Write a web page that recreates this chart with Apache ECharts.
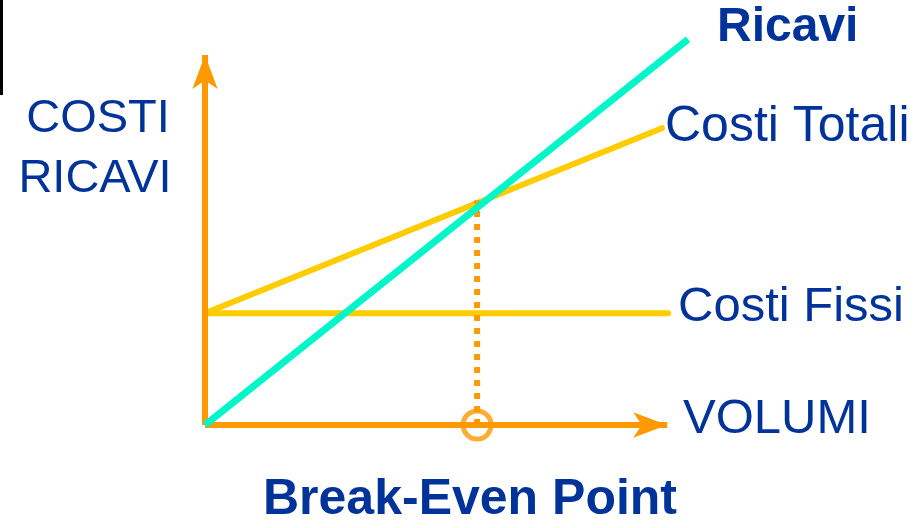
<!DOCTYPE html>
<html>
<head>
<meta charset="utf-8">
<style>
  html, body { margin: 0; padding: 0; background: #fff; }
  #chart { width: 918px; height: 528px; }
</style>
<script src="https://cdn.jsdelivr.net/npm/echarts@6/dist/echarts.min.js"></script>
</head>
<body>
<div id="chart"></div>
<script>
// line end points, in volume / cost units
const ricaviX = [0, 99.6];
const ricaviY = [0, 99.7];
const costiTotaliX = [0, 94.2];
const costiTotaliY = [28.9, 76.7];
const costiFissiX = [0, 95.5];
const costiFissiY = [28.9, 28.9];
const breakEvenX = [56.1, 56.1];
const breakEvenY = [0, 58.1];
// where the two axis arrows end
const axisEndX = 95.3;
const axisEndY = 95.6;

const orange = "#FF9900";
const yellow = "#FFCC00";
const cyan = "#00F5C8";
const blue = "#003399";
const font = "Liberation Sans, Arial, sans-serif";

const pairs = (xs, ys) => xs.map((x, i) => [x, ys[i]]);

const chart = echarts.init(document.getElementById("chart"));

function label(text, x, y, size, bold, align) {
    return {
        type: "text",
        x: x,
        y: y,
        z: 10,
        style: {
            text: text,
            fill: blue,
            font: (bold ? "bold " : "") + size + "px " + font,
            align: align || "left",
            verticalAlign: "middle",
        },
    };
}

const hiddenAxis = {
    type: "value",
    min: 0,
    max: 100,
    splitLine: { show: false },
    axisTick: { show: false },
    axisLabel: { show: false },
    axisLine: { show: false },
};

chart.setOption({
    animation: false,
    grid: {
        left: 205,
        right: 228,
        top: 38,
        bottom: 103,
    },
    xAxis: hiddenAxis,
    yAxis: hiddenAxis,
    series: [
        {
            name: "Assi",
            type: "line",
            data: [],
            z: 1,
            markLine: {
                silent: true,
                symbol: ["none", "arrow"],
                symbolSize: [19, 34],
                label: { show: false },
                lineStyle: { color: orange, width: 6, type: "solid" },
                data: [
                    [{ coord: [0, 0] }, { coord: [axisEndX, 0] }],
                    [{ coord: [0, 0] }, { coord: [0, axisEndY] }],
                ],
            },
        },
        {
            name: "Costi Fissi",
            type: "line",
            data: pairs(costiFissiX, costiFissiY),
            showSymbol: false,
            lineStyle: { color: yellow, width: 6, cap: "round" },
            z: 3,
        },
        {
            name: "Costi Totali",
            type: "line",
            data: pairs(costiTotaliX, costiTotaliY),
            showSymbol: false,
            lineStyle: { color: yellow, width: 6, cap: "round" },
            z: 3,
        },
        {
            name: "Break-Even",
            type: "line",
            data: pairs(breakEvenX, breakEvenY),
            showSymbol: false,
            lineStyle: { color: orange, width: 6, type: [6, 7] },
            z: 4,
        },
        {
            name: "Ricavi",
            type: "line",
            data: pairs(ricaviX, ricaviY),
            showSymbol: false,
            clip: false,
            lineStyle: { color: cyan, width: 7 },
            z: 5,
        },
        {
            name: "BEP",
            type: "scatter",
            data: [[breakEvenX[0], 0]],
            symbol: "circle",
            symbolSize: 28,
            clip: false,
            itemStyle: {
                color: "rgba(0,0,0,0)",
                borderColor: orange,
                borderWidth: 5,
            },
            z: 6,
        },
    ],
    graphic: [
        {
            type: "rect",
            shape: { x: 0, y: 0, width: 3, height: 95 },
            style: { fill: "#000" },
        },
        label("COSTI", 98, 119, 47, false, "center"),
        label("RICAVI", 95, 179, 47, false, "center"),
        label("Ricavi", 717, 28, 48, true),
        label("Costi Totali", 665, 127, 50),
        label("Costi Fissi", 678, 307, 49),
        label("VOLUMI", 683, 419, 49),
        label("Break-Even Point", 470, 500, 50, true, "center"),
    ],
});
</script>
</body>
</html>
